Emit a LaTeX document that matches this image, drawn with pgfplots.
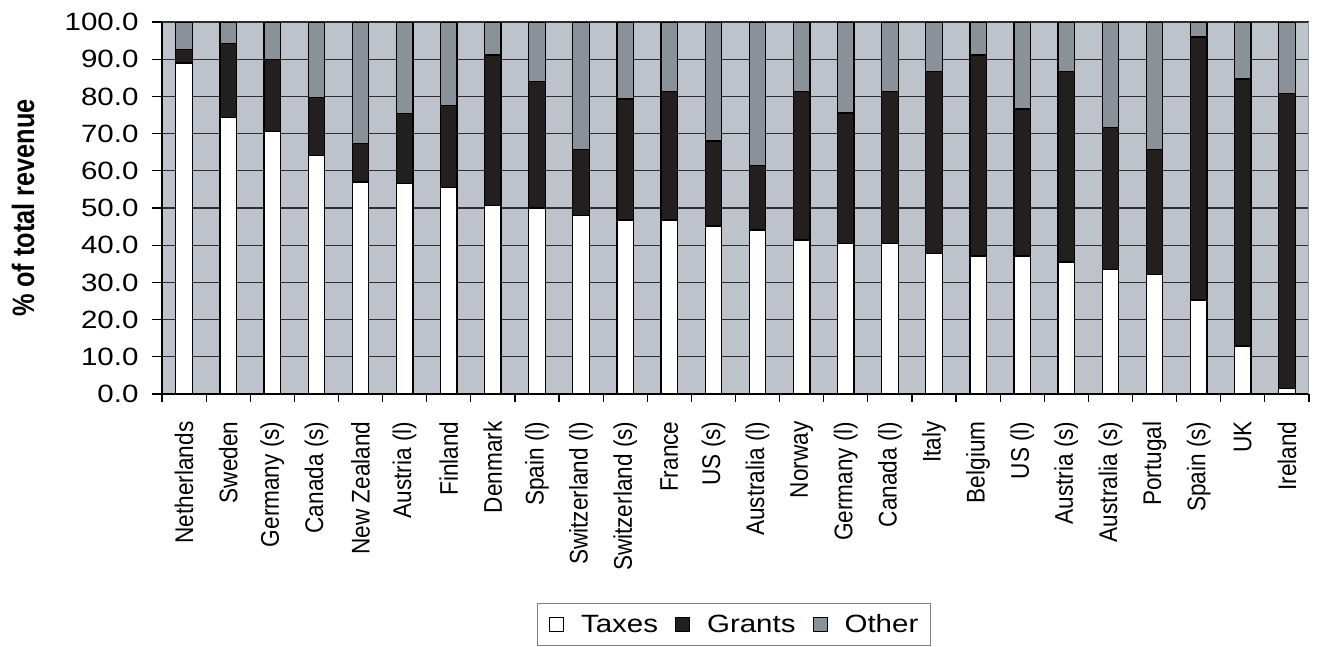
\documentclass[border=0pt]{standalone}
\usepackage{fontspec}
\setmainfont{Liberation Sans}
\newfontfamily\widefont{Liberation Sans}[FakeStretch=1.18]
\usepackage{pgfplots}
\usepackage{pgfplotstable}
\pgfplotsset{compat=1.18}
\definecolor{bgc}{RGB}{190,195,203}
\definecolor{grantc}{RGB}{35,31,30}
\definecolor{otherc}{RGB}{138,145,153}
\definecolor{gridc}{RGB}{45,45,45}
\definecolor{edgec}{RGB}{150,155,162}

\pgfplotstableread{
x taxes grants other
0  89.0 3.6  7.4
1  74.3 20.0 5.7
2  70.6 19.4 10.0
3  64.1 15.6 20.3
4  57.0 10.4 32.6
5  56.6 18.8 24.6
6  55.5 22.1 22.4
7  50.6 40.5 8.9
8  50.0 34.1 15.9
9  47.9 17.9 34.2
10 46.8 32.5 20.7
11 46.8 34.6 18.6
12 45.2 22.8 32.0
13 44.1 17.4 38.5
14 41.4 40.0 18.6
15 40.4 35.1 24.5
16 40.4 41.0 18.6
17 37.7 49.0 13.3
18 37.1 54.0 8.9
19 37.1 39.5 23.4
20 35.5 51.2 13.3
21 33.4 38.3 28.3
22 32.2 33.5 34.3
23 25.3 70.7 4.0
24 12.9 71.8 15.3
25 1.5  79.3 19.2
}\data

\begin{document}
\begin{tikzpicture}[x=1pt,y=1pt]
\begin{axis}[
  at={(162pt,-394pt)}, anchor=south west,
  scale only axis, width=1147pt, height=372pt,
  ybar stacked, bar width=16.5pt,
  xmin=-0.5, xmax=25.5, ymin=0, ymax=100,
  axis background/.style={fill=bgc},
  axis lines*=left,
  axis line style={-, black, line width=1.3pt},
  xtick={0,...,25},
  xticklabels={Netherlands, Sweden, Germany (s), Canada (s), New Zealand, Austria (l), Finland, Denmark, Spain (l), Switzerland (l), Switzerland (s), France, US (s), Australia (l), Norway, Germany (l), Canada (l), Italy, Belgium, US (l), Austria (s), Australia (s), Portugal, Spain (s), UK, Ireland},
  major x tick style={draw=none},
  minor xtick={-0.5,0.5,...,25.5},
  minor tick length=8pt,
  major tick length=10pt,
  tick align=outside,
  tick style={black, line width=1.2pt},
  ytick={0,10,...,100},
  ymajorgrids,
  grid style={gridc, line width=1.1pt},
  yticklabel shift=10pt,
  xticklabel shift=14pt,
  yticklabel style={font=\widefont\fontsize{25}{29}\selectfont,
    /pgf/number format/.cd, fixed, fixed zerofill, precision=1, assume math mode=true},
  xticklabel style={font=\fontsize{22.6}{27}\selectfont, rotate=90, anchor=east, yscale=1.13},
  ylabel={\% of total revenue},
  ylabel style={font=\bfseries\fontsize{25.3}{30}\selectfont, at={(axis description cs:-0.121,0.5)}, anchor=center, yscale=1.22},
  legend columns=3,
  legend style={at={(0.3265,-0.562)}, anchor=north west, draw=gray, line width=1pt, fill=white,
    font=\widefont\fontsize{25}{29}\selectfont,
    inner xsep=12pt, inner ysep=11pt,
    nodes={inner xsep=0pt, inner ysep=0pt},
    /tikz/every odd column/.append style={column sep=17pt},
    /tikz/every even column/.append style={column sep=17pt}},
  legend image code/.code={\draw[#1, draw=black, line width=1pt] (0pt,-7pt) rectangle (14pt,7pt);},
  after end axis/.code={\draw[edgec, line width=1pt] (rel axis cs:1,0) -- (rel axis cs:1,1);},
]
\addplot[fill=white, draw=black, line width=1.3pt] table[x=x, y=taxes]{\data};
\addplot[fill=grantc, draw=black, line width=1.3pt] table[x=x, y=grants]{\data};
\addplot[fill=otherc, draw=black, line width=1.3pt] table[x=x, y=other]{\data};
\legend{Taxes, Grants, Other}
\end{axis}
\pgfresetboundingbox
\useasboundingbox (0,0) rectangle (1317pt,-646pt);
\end{tikzpicture}
\end{document}
